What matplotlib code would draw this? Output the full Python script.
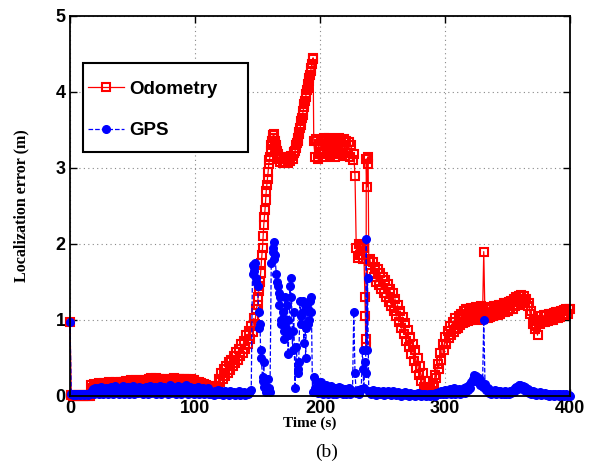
import numpy as np
import matplotlib
matplotlib.use('Agg')
import matplotlib.pyplot as plt
from matplotlib.patches import Rectangle

# odometry error (m), one sample per second, t = 0 .. 400 s
odo_err = [
    0.97, 0.01, 0.00, 0.01, 0.00, 0.01, 0.00, 0.01, 0.00, 0.01,
    0.00, 0.01, 0.00, 0.01, 0.00, 0.01, 0.00, 0.14, 0.11, 0.16,
    0.12, 0.15, 0.11, 0.17, 0.13, 0.16, 0.12, 0.17, 0.14, 0.16,
    0.12, 0.18, 0.13, 0.16, 0.12, 0.17, 0.14, 0.18, 0.13, 0.17,
    0.15, 0.19, 0.13, 0.18, 0.15, 0.20, 0.14, 0.19, 0.16, 0.21,
    0.15, 0.20, 0.17, 0.21, 0.15, 0.20, 0.16, 0.21, 0.15, 0.19,
    0.16, 0.21, 0.17, 0.23, 0.18, 0.24, 0.19, 0.23, 0.18, 0.24,
    0.19, 0.23, 0.17, 0.22, 0.16, 0.21, 0.17, 0.22, 0.16, 0.21,
    0.18, 0.23, 0.19, 0.24, 0.18, 0.23, 0.19, 0.22, 0.17, 0.23,
    0.18, 0.22, 0.17, 0.23, 0.18, 0.21, 0.17, 0.22, 0.16, 0.21,
    0.15, 0.19, 0.14, 0.18, 0.13, 0.17, 0.12, 0.16, 0.11, 0.14,
    0.10, 0.13, 0.07, 0.10, 0.05, 0.09, 0.07, 0.13, 0.12, 0.22,
    0.18, 0.30, 0.22, 0.36, 0.26, 0.40, 0.30, 0.45, 0.34, 0.48,
    0.39, 0.53, 0.43, 0.58, 0.48, 0.62, 0.52, 0.68, 0.57, 0.73,
    0.62, 0.80, 0.68, 0.86, 0.75, 0.92, 0.84, 1.02, 0.95, 1.15,
    1.20, 1.38, 1.50, 1.75, 1.95, 2.25, 2.45, 2.70, 2.85, 3.05,
    3.15, 3.30, 3.40, 3.45, 3.35, 3.28, 3.18, 3.12, 3.08, 3.14,
    3.06, 3.13, 3.08, 3.15, 3.07, 3.13, 3.09, 3.16, 3.12, 3.20,
    3.22, 3.30, 3.35, 3.45, 3.52, 3.62, 3.70, 3.80, 3.88, 3.98,
    4.05, 4.15, 4.22, 4.32, 4.43, 3.35, 3.15, 3.38, 3.12, 3.32,
    3.18, 3.36, 3.20, 3.40, 3.15, 3.38, 3.22, 3.40, 3.17, 3.35,
    3.20, 3.38, 3.15, 3.36, 3.22, 3.40, 3.18, 3.35, 3.20, 3.38,
    3.16, 3.36, 3.20, 3.34, 3.14, 3.30, 3.10, 3.18, 2.90, 1.95,
    1.82, 2.00, 1.85, 1.98, 1.80, 1.95, 1.30, 3.12, 3.05, 1.78,
    1.80, 1.62, 1.76, 1.56, 1.70, 1.50, 1.67, 1.46, 1.62, 1.41,
    1.57, 1.36, 1.52, 1.30, 1.47, 1.24, 1.41, 1.18, 1.35, 1.12,
    1.28, 1.05, 1.20, 0.97, 1.12, 0.89, 1.04, 0.81, 0.96, 0.73,
    0.87, 0.64, 0.78, 0.55, 0.69, 0.46, 0.60, 0.37, 0.50, 0.28,
    0.40, 0.20, 0.30, 0.12, 0.20, 0.07, 0.12, 0.05, 0.09, 0.06,
    0.14, 0.12, 0.28, 0.24, 0.42, 0.36, 0.56, 0.48, 0.68, 0.60,
    0.78, 0.68, 0.86, 0.76, 0.92, 0.80, 0.98, 0.84, 1.02, 0.88,
    0.90, 1.05, 0.94, 1.08, 0.96, 1.12, 0.98, 1.15, 0.99, 1.14,
    1.00, 1.16, 1.01, 1.15, 1.02, 1.17, 1.00, 1.16, 1.02, 1.18,
    1.01, 1.90, 1.03, 1.15, 1.02, 1.17, 1.04, 1.16, 1.05, 1.18,
    1.06, 1.19, 1.07, 1.20, 1.08, 1.20, 1.10, 1.22, 1.11, 1.23,
    1.12, 1.24, 1.14, 1.25, 1.15, 1.27, 1.18, 1.30, 1.20, 1.31,
    1.24, 1.33, 1.25, 1.32, 1.22, 1.28, 1.18, 1.22, 1.08, 1.12,
    0.95, 1.00, 0.88, 0.92, 0.80, 0.98, 0.95, 1.05, 0.97, 1.06,
    0.98, 1.07, 0.99, 1.08, 1.00, 1.08, 1.00, 1.09, 1.02, 1.10,
    1.03, 1.10, 1.04, 1.12, 1.06, 1.13, 1.07, 1.14, 1.08, 1.15,
    1.14,
]
# odometry samples between the whole seconds
odo_extra_t = [150.5, 151.5, 152.5, 153.5, 154.5, 155.5, 156.5, 157.5,
               158.5, 159.5, 160.5, 161.5, 162.5, 163.5, 164.5, 165.5,
               179.5, 180.5, 181.5, 182.5, 183.5, 184.5, 185.5, 186.5,
               187.5, 188.5, 189.5, 190.5, 191.5, 192.5, 193.5, 194.5,
               236.3, 236.6, 236.9, 237.5, 238.5]
odo_extra_v = [1.30, 1.45, 1.62, 1.85, 2.10, 2.35, 2.58, 2.78,
               2.95, 3.10, 3.22, 3.36, 3.43, 3.40, 3.30, 3.22,
               3.21, 3.26, 3.33, 3.40, 3.48, 3.57, 3.66, 3.75,
               3.84, 3.93, 4.02, 4.10, 4.18, 4.27, 4.37, 4.45,
               1.05, 0.65, 0.75, 2.75, 3.15]

# GPS error (m), one sample per second, t = 0 .. 400 s
gps_err = [
    0.97, 0.02, 0.01, 0.03, 0.02, 0.01, 0.02, 0.03, 0.01, 0.02,
    0.03, 0.01, 0.02, 0.03, 0.01, 0.02, 0.03, 0.05, 0.09, 0.03,
    0.10, 0.04, 0.11, 0.02, 0.08, 0.12, 0.03, 0.09, 0.05, 0.11,
    0.02, 0.10, 0.06, 0.12, 0.03, 0.09, 0.13, 0.04, 0.10, 0.02,
    0.11, 0.06, 0.13, 0.03, 0.09, 0.05, 0.12, 0.02, 0.10, 0.07,
    0.13, 0.03, 0.09, 0.11, 0.04, 0.12, 0.06, 0.10, 0.02, 0.11,
    0.05, 0.12, 0.03, 0.09, 0.13, 0.04, 0.11, 0.07, 0.12, 0.03,
    0.10, 0.06, 0.13, 0.02, 0.09, 0.12, 0.05, 0.11, 0.03, 0.10,
    0.14, 0.04, 0.12, 0.07, 0.10, 0.02, 0.13, 0.05, 0.11, 0.03,
    0.12, 0.06, 0.10, 0.14, 0.03, 0.09, 0.12, 0.04, 0.11, 0.02,
    0.10, 0.05, 0.12, 0.03, 0.09, 0.06, 0.11, 0.02, 0.08, 0.04,
    0.10, 0.03, 0.07, 0.02, 0.05, 0.01, 0.06, 0.03, 0.08, 0.02,
    0.04, 0.07, 0.01, 0.03, 0.06, 0.02, 0.04, 0.01, 0.07, 0.03,
    0.02, 0.05, 0.01, 0.04, 0.02, 0.06, 0.01, 0.03, 0.02, 0.05,
    0.01, 0.03, 0.02, 0.04, 0.06, 0.08, 1.72, 1.65, 1.75, 1.55,
    1.45, 1.10, 0.95, 0.50, 0.25, 0.45, 0.15, 0.05, 0.22, 0.10,
    0.05, 1.75, 1.90, 2.03, 1.85, 1.60, 1.45, 1.20, 1.30, 0.95,
    1.10, 0.85, 1.30, 0.90, 1.00, 0.80, 1.45, 1.55, 0.60, 1.10,
    0.10, 0.65, 0.35, 0.45, 1.25, 0.95, 1.10, 0.70, 1.20, 0.90,
    1.15, 1.00, 1.25, 1.30, 0.05, 0.25, 0.10, 0.20, 0.04, 0.15,
    0.08, 0.18, 0.03, 0.12, 0.06, 0.15, 0.02, 0.10, 0.05, 0.13,
    0.03, 0.09, 0.11, 0.02, 0.08, 0.12, 0.04, 0.10, 0.03, 0.07,
    0.09, 0.02, 0.06, 0.10, 0.03, 0.08, 0.05, 1.10, 0.30, 0.04,
    0.08, 0.02, 0.06, 0.09, 0.60, 0.10, 0.45, 2.07, 1.55, 0.05,
    0.07, 0.02, 0.08, 0.04, 0.06, 0.01, 0.07, 0.03, 0.05, 0.02,
    0.06, 0.01, 0.05, 0.03, 0.07, 0.02, 0.04, 0.01, 0.06, 0.02,
    0.04, 0.01, 0.05, 0.02, 0.03, 0.00, 0.04, 0.02, 0.05, 0.01,
    0.03, 0.00, 0.04, 0.02, 0.01, 0.03, 0.00, 0.02, 0.04, 0.01,
    0.02, 0.00, 0.03, 0.01, 0.02, 0.00, 0.01, 0.03, 0.00, 0.02,
    0.01, 0.03, 0.00, 0.04, 0.02, 0.05, 0.03, 0.07, 0.02, 0.06,
    0.08, 0.03, 0.07, 0.04, 0.09, 0.02, 0.06, 0.10, 0.03, 0.08,
    0.05, 0.09, 0.03, 0.08, 0.06, 0.10, 0.04, 0.12, 0.08, 0.14,
    0.10, 0.18, 0.22, 0.28, 0.20, 0.26, 0.18, 0.24, 0.15, 0.20,
    0.12, 1.00, 0.16, 0.08, 0.10, 0.04, 0.08, 0.03, 0.07, 0.05,
    0.08, 0.02, 0.06, 0.04, 0.07, 0.02, 0.05, 0.03, 0.06, 0.02,
    0.05, 0.03, 0.07, 0.04, 0.08, 0.05, 0.10, 0.12, 0.09, 0.14,
    0.15, 0.10, 0.13, 0.08, 0.12, 0.06, 0.09, 0.04, 0.07, 0.03,
    0.06, 0.02, 0.05, 0.01, 0.04, 0.02, 0.05, 0.01, 0.03, 0.02,
    0.04, 0.01, 0.03, 0.00, 0.02, 0.01, 0.03, 0.00, 0.02, 0.01,
    0.02, 0.00, 0.03, 0.01, 0.02, 0.00, 0.01, 0.02, 0.00, 0.01,
    0.00,
]
# GPS samples between the whole seconds (the 145-195 s cluster)
gps_extra_t = [146.5, 147.5, 148.5, 151.5, 152.5, 154.5, 155.5, 162.5,
               163.5, 165.5, 167.5, 168.5, 171.5, 173.5, 174.5, 176.5,
               178.5, 182.5, 184.5, 186.5, 188.5, 190.5, 192.5, 234.5,
               236.5, 237.5]
gps_extra_v = [1.60, 1.70, 1.50, 0.90, 0.60, 0.20, 0.12, 1.95, 1.80, 1.50,
               1.35, 1.00, 0.75, 1.20, 0.55, 1.30, 0.85, 0.30, 1.05, 1.25,
               0.50, 0.95, 1.10, 0.35, 0.30, 0.60]


def merge(grid_v, extra_t, extra_v):
    t = np.concatenate([np.arange(0, 401, 1), extra_t])
    v = np.concatenate([grid_v, extra_v])
    idx = np.argsort(t, kind='stable')
    return t[idx], v[idx]


odo_t, odo_v = merge(odo_err, odo_extra_t, odo_extra_v)
gps_t, gps_v = merge(gps_err, gps_extra_t, gps_extra_v)

fig = plt.figure(figsize=(6.02, 4.66), dpi=100)
ax = fig.add_axes([70 / 602, 70 / 466, 500 / 602, 380 / 466])

ax.plot(odo_t, odo_v, '-', color='#ff0000', lw=0.9, marker='s', ms=5.5,
        mfc='none', mec='#ff0000', mew=1.5, label='Odometry', clip_on=False)
ax.plot(gps_t, gps_v, '--', color='#0000ff', lw=0.9, marker='o', ms=5.5,
        mfc='#0000ff', mec='#0000ff', label='GPS', clip_on=False)

ax.set_xlim(0, 400)
ax.set_ylim(0, 5)
ax.set_xticks([0, 100, 200, 300, 400])
ax.set_yticks([0, 1, 2, 3, 4, 5])
ax.grid(True, color='#888888', linestyle=(0, (1, 3)), linewidth=0.8)
ax.tick_params(direction='in', length=5, width=1, top=True, right=True,
               labelsize=13, pad=3)
for lab in ax.get_xticklabels() + ax.get_yticklabels():
    lab.set_fontweight('bold')
    lab.set_family('Liberation Sans')
for s in ax.spines.values():
    s.set_linewidth(1.3)

ax.set_xlabel('Time (s)', family='Liberation Serif', fontweight='bold',
              fontsize=11, labelpad=0)
ax.xaxis.set_label_coords(0.48, -0.055)
ax.set_ylabel('Localization error (m)', family='Liberation Serif',
              fontweight='bold', fontsize=11.5, labelpad=19)
fig.text(327 / 602, 14 / 466, '(b)', family='Liberation Serif',
         fontsize=14, ha='center', va='center')

# legend box drawn separately so the inner padding can match
box = Rectangle((0.026, 0.642), 0.33, 0.234, transform=ax.transAxes,
                facecolor='white', edgecolor='black', linewidth=1.5,
                zorder=4, clip_on=False)
ax.add_patch(box)
leg = ax.legend(loc='upper left', bbox_to_anchor=(0.036, 0.83),
                borderaxespad=0, frameon=False, numpoints=1,
                handlelength=1.9, handletextpad=0.3, labelspacing=1.3,
                borderpad=0,
                prop={'family': 'Liberation Sans', 'weight': 'bold',
                      'size': 13.5})
leg.set_zorder(5)

fig.savefig('out.png', dpi=100)
